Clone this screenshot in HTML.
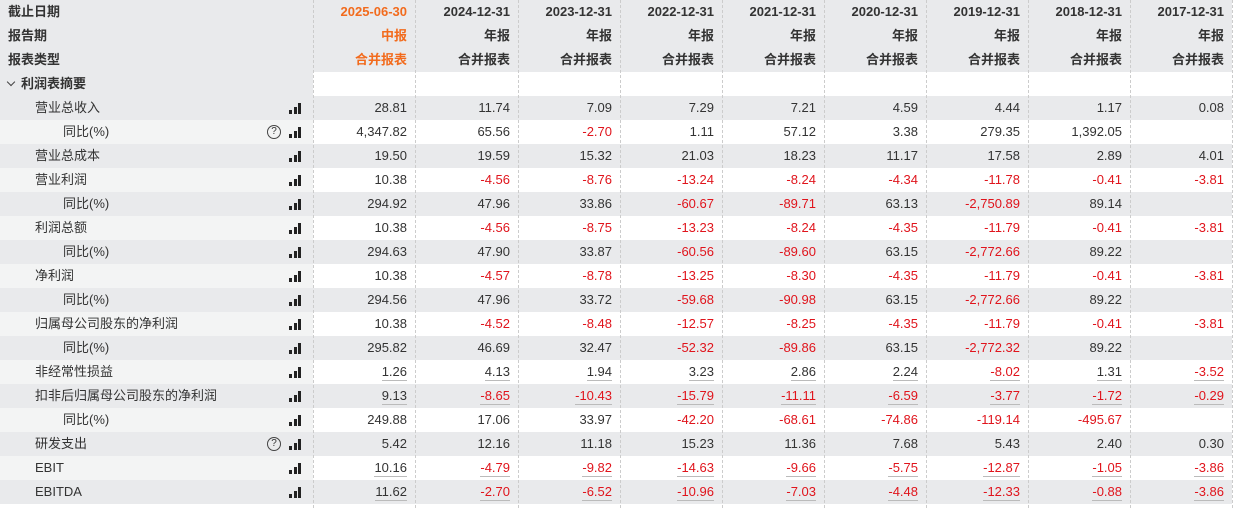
<!DOCTYPE html>
<html><head><meta charset="utf-8"><style>
body{margin:0;width:1241px;height:508px;overflow:hidden;background:#fff;font-family:"Liberation Sans","Noto Sans CJK SC",sans-serif;font-size:13px;color:#333}
#t{position:absolute;left:0;top:0;width:1241px}
.row{position:absolute;left:0;width:1232px;height:24px;line-height:24px}
.lab{position:absolute;left:0;top:0;width:313px;height:24px}
.cell{position:absolute;top:0;height:24px;text-align:right;box-sizing:border-box;padding-right:8px}
.neg{color:#e0141c}
.hd{font-weight:bold}
.or{color:#f26b1d}
.ul span{border-bottom:1px solid #bbb;line-height:16px;display:inline-block}
.bars{position:absolute;left:289px;top:7px;width:12px;height:11px}
.bars i{position:absolute;bottom:0;width:3px;background:#222}
.q{position:absolute;left:267px;top:5px;width:12px;height:12px;border:1px solid #444;border-radius:50%;font-size:10px;line-height:12px;text-align:center}
.sep{position:absolute;top:0;height:508px;border-left:1px dashed #ccc}
.chev{position:absolute;left:8px;top:7px;width:5px;height:5px;border-right:1px solid #444;border-bottom:1px solid #444;transform:rotate(45deg)}
</style></head><body>
<div id="t"></div>
<script>
const periods=["2025-06-30","2024-12-31","2023-12-31","2022-12-31","2021-12-31","2020-12-31","2019-12-31","2018-12-31","2017-12-31"];
const reportTypes=["中报","年报","年报","年报","年报","年报","年报","年报","年报"];
const labels=["营业总收入","同比(%)","营业总成本","营业利润","同比(%)","利润总额","同比(%)","净利润","同比(%)","归属母公司股东的净利润","同比(%)","非经常性损益","扣非后归属母公司股东的净利润","同比(%)","研发支出","EBIT","EBITDA"];
const levels=[1,2,1,1,2,1,2,1,2,1,2,1,1,2,1,1,1];
const helpRows=[1,14];
const underlineRows=[11,12,15,16];
const values=[
["28.81","11.74","7.09","7.29","7.21","4.59","4.44","1.17","0.08"],
["4,347.82","65.56","-2.70","1.11","57.12","3.38","279.35","1,392.05",""],
["19.50","19.59","15.32","21.03","18.23","11.17","17.58","2.89","4.01"],
["10.38","-4.56","-8.76","-13.24","-8.24","-4.34","-11.78","-0.41","-3.81"],
["294.92","47.96","33.86","-60.67","-89.71","63.13","-2,750.89","89.14",""],
["10.38","-4.56","-8.75","-13.23","-8.24","-4.35","-11.79","-0.41","-3.81"],
["294.63","47.90","33.87","-60.56","-89.60","63.15","-2,772.66","89.22",""],
["10.38","-4.57","-8.78","-13.25","-8.30","-4.35","-11.79","-0.41","-3.81"],
["294.56","47.96","33.72","-59.68","-90.98","63.15","-2,772.66","89.22",""],
["10.38","-4.52","-8.48","-12.57","-8.25","-4.35","-11.79","-0.41","-3.81"],
["295.82","46.69","32.47","-52.32","-89.86","63.15","-2,772.32","89.22",""],
["1.26","4.13","1.94","3.23","2.86","2.24","-8.02","1.31","-3.52"],
["9.13","-8.65","-10.43","-15.79","-11.11","-6.59","-3.77","-1.72","-0.29"],
["249.88","17.06","33.97","-42.20","-68.61","-74.86","-119.14","-495.67",""],
["5.42","12.16","11.18","15.23","11.36","7.68","5.43","2.40","0.30"],
["10.16","-4.79","-9.82","-14.63","-9.66","-5.75","-12.87","-1.05","-3.86"],
["11.62","-2.70","-6.52","-10.96","-7.03","-4.48","-12.33","-0.88","-3.86"]];
const colX=[313,415,518,620,722,824,926,1028,1130,1232];
const GRAY="#e9eaec",LIGHT="#f3f4f4";
const t=document.getElementById('t');
function row(y,labBg,valBg){const r=document.createElement('div');r.className='row';r.style.top=y+'px';r.style.background=valBg;const l=document.createElement('div');l.className='lab';l.style.background=labBg;r.appendChild(l);t.appendChild(r);return r;}
function cell(r,i,txt,cls){const c=document.createElement('div');c.className='cell '+(cls||'');c.style.left=colX[i]+'px';c.style.width=(colX[i+1]-colX[i])+'px';const s=document.createElement('span');s.textContent=txt;c.appendChild(s);r.appendChild(c);return c;}
function text(r,x,txt,cls){const d=document.createElement('div');d.style.position='absolute';d.style.left=x+'px';d.style.top='0';d.textContent=txt;if(cls)d.className=cls;r.appendChild(d);return d;}
const hdTitles=["截止日期","报告期","报表类型"];
for(let h=0;h<3;h++){
 const r=row(h*24,GRAY,GRAY);
 
 
 text(r,8,hdTitles[h],'hd');
 for(let i=0;i<periods.length;i++){
  const txt=h==0?periods[i]:h==1?reportTypes[i]:"合并报表";
  const c=cell(r,i,txt,'hd'+(i==0?' or':''));
  
  
 }
}
const sec=row(72,GRAY,"#fff");


const ch=document.createElement('div');ch.className='chev';


sec.appendChild(ch);
text(sec,21,"利润表摘要",'hd');
for(let k=0;k<labels.length;k++){
 const gray=k%2==0;
 const r=row(96+k*24,gray?GRAY:LIGHT,gray?GRAY:"#fff");
 
 
 if(underlineRows.includes(k))r.classList.add('ul');
 text(r,levels[k]==1?35:63,labels[k]);
 const b=document.createElement('div');b.className='bars';
 
 
 [[0,4],[4.5,7],[9,11]].forEach(p=>{const i=document.createElement('i');i.style.left=p[0]+'px';i.style.height=p[1]+'px';b.appendChild(i);});
 r.appendChild(b);
 if(helpRows.includes(k)){const q=document.createElement('div');q.className='q';q.textContent='?';
  
  
  r.appendChild(q);}
 for(let i=0;i<values[k].length;i++){
  const v=values[k][i];
  const c=cell(r,i,v,v.startsWith('-')?'neg':'');
  
  
 }
}
for(let i=0;i<colX.length;i++){const s=document.createElement('div');s.className='sep';s.style.left=colX[i]+'px';
 
 
 t.appendChild(s);}
</script>
</body></html>
